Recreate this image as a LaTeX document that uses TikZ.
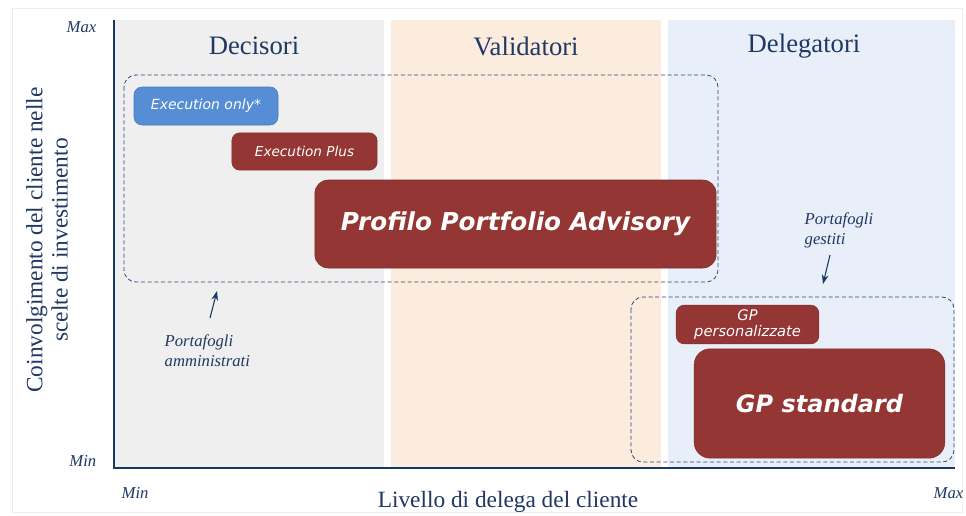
\documentclass[tikz,border=0pt]{standalone}
\usepackage{fontspec}
\setmainfont{Liberation Serif}
\newfontfamily\boxfont{DejaVu Sans}
\usetikzlibrary{arrows.meta}
\definecolor{axblue}{RGB}{23,55,100}
\definecolor{txtblue}{RGB}{31,56,100}
\definecolor{bandgrey}{RGB}{239,239,239}
\definecolor{bandpeach}{RGB}{251,236,222}
\definecolor{bandblue}{RGB}{232,239,249}
\definecolor{maroon}{RGB}{148,54,52}
\definecolor{exblue}{RGB}{85,142,213}
\definecolor{dashblue}{RGB}{40,70,115}
\tikzset{
  hdr/.style={font=\fontsize{20}{24}\selectfont, text=txtblue},
  tick/.style={font=\fontsize{12.5}{14}\selectfont\itshape, text=txtblue},
  annot/.style={font=\fontsize{12.5}{15}\selectfont\itshape, text=txtblue, align=left},
  axlab/.style={font=\fontsize{17.5}{19}\selectfont, text=txtblue, align=center},
  grp/.style={draw=dashblue, dash pattern=on 3pt off 2pt, rounded corners=9pt, line width=0.6pt},
  pbox/.style={fill=maroon, draw=maroon!85!black, rounded corners=6pt, text=white, inner sep=0pt, align=center, font=\boxfont\itshape},
  arr/.style={-{Stealth[length=7pt,width=5pt]}, draw=axblue, line width=0.8pt},
}
\begin{document}
\begin{tikzpicture}[x=0.75pt,y=-0.75pt]
\useasboundingbox (0,0) rectangle (966,515);
\fill[white] (0,0) rectangle (966,515);
\draw[black!7] (12,8) rectangle (962,512);
% bands
\fill[bandgrey] (115,20) rectangle (384,467);
\fill[bandpeach] (391,20) rectangle (661,467);
\fill[bandblue] (668,20) rectangle (955,467);
% axes
\draw[axblue, line width=1.6pt] (114,20) -- (114,468) -- (955,468);
% headers
\node[hdr] (h1) at (254,46) {Decisori};
\node[hdr] (h2) at (526,46) {Validatori};
\node[hdr] (h3) at (804,46) {Delegatori};
% ticks
\node[tick, anchor=east] (ymax) at (101,27) {Max};
\node[tick, anchor=east] (ymin) at (101,461) {Min};
\node[tick, anchor=west] (xmin) at (117,493) {Min};
\node[tick, anchor=east] (xmax) at (968,493) {Max};
% axis labels
\node[axlab, rotate=90] (ylab) at (47,240) {Coinvolgimento del cliente nelle\\scelte di investimento};
\node[axlab] (xlab) at (508,502) {Livello di delega del cliente};
% groups
\draw[grp] (124,75) rectangle (718,282);
\draw[grp] (631,297) rectangle (954,462);
\coordinate (g1b) at (217,291);
\coordinate (g2t) at (823,284);
% boxes
\node[pbox, fill=exblue, draw=exblue!85!black, minimum width=108pt, minimum height=28.5pt, font=\boxfont\itshape\fontsize{10.5}{12}\selectfont] (exo) at (206,106) {Execution only*};
\node[pbox, minimum width=109pt, minimum height=28pt, font=\boxfont\itshape\fontsize{10.2}{12}\selectfont] (exp) at (304.5,151.5) {Execution Plus};
\node[pbox, rounded corners=10pt, minimum width=301pt, minimum height=66pt, font=\boxfont\bfseries\itshape\fontsize{18.5}{22}\selectfont] (ppa) at (515.5,224) {Profilo Portfolio Advisory};
\node[pbox, minimum width=107pt, minimum height=29pt, font=\boxfont\itshape\fontsize{11}{11.5}\selectfont] (gpp) at (747.5,324.5) {GP\\personalizzate};
\node[pbox, rounded corners=12pt, minimum width=188pt, minimum height=82pt, font=\boxfont\bfseries\itshape\fontsize{18}{21}\selectfont] (gps) at (819.5,403.5) {GP standard};
% annotations
\node[annot, anchor=north west] (lam) at (160,330) {Portafogli\\amministrati};
\node[annot, anchor=north west] (lge) at (800,208) {Portafogli\\gestiti};
\coordinate (a1s) at (210,318);
\coordinate (a2s) at (830,255);
\draw[arr] (a1s) -- (g1b);
\draw[arr] (a2s) -- (g2t);
\end{tikzpicture}
\end{document}
